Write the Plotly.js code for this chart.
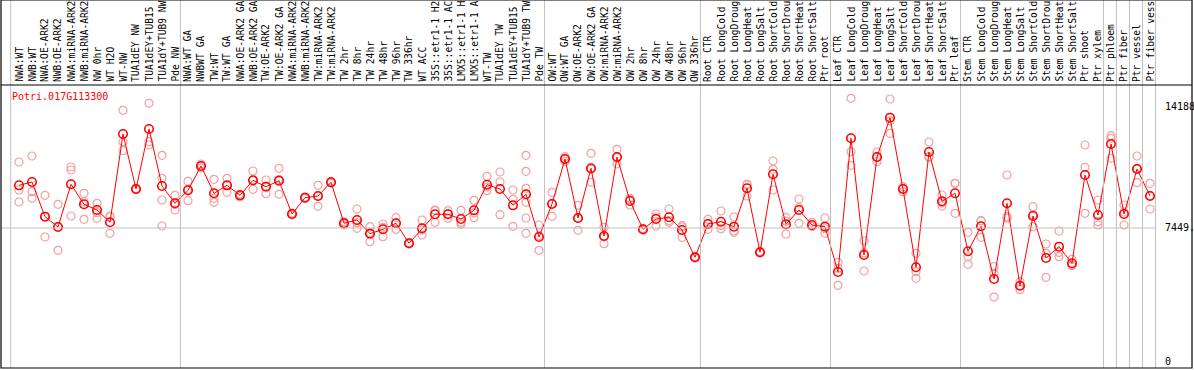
<!DOCTYPE html>
<html>
<head>
<meta charset="utf-8">
<script src="https://cdn.plot.ly/plotly-3.0.1.min.js"></script>
<style>html,body{margin:0;padding:0;background:#fff;}#chart{width:1194px;height:370px;}</style>
</head>
<body>
<div id="chart"></div>
<script>
const geneId = "Potri.017G113300";
const categories = ["NWA:WT","NWB:WT","NWA:OE-ARK2","NWB:OE-ARK2","NWA:miRNA-ARK2","NWB:miRNA-ARK2","NW 0hr","WT H2O","WT-NW","TUA1dEY NW","TUA1dEY+TUB15","TUA1dY+TUB9 NW","Pde NW",
"NWA:WT GA","NWBWT GA","TW:WT","TW:WT GA","NWA:OE-ARK2 GA","NWB:OE-ARK2 GA","TW:OE-ARK2","TW:OE-ARK2 GA","NWA:miRNA-ARK2","NWB:miRNA-ARK2","TW:miRNA-ARK2","TW:miRNA-ARK2","TW 2hr","TW 8hr","TW 24hr","TW 48hr","TW 96hr","TW 336hr","WT ACC","35S::etr1-1 H2","35S::etr1-1 AC","LMX5::etr1-1 H","LMX5::etr1-1 A","WT-TW","TUA1dEY TW","TUA1dEY+TUB15","TUA1dY+TUB9 TW","Pde TW",
"OW:WT","OW:WT GA","OW:OE-ARK2","OW:OE-ARK2 GA","OW:miRNA-ARK2","OW:miRNA-ARK2","OW 2hr","OW 8hr","OW 24hr","OW 48hr","OW 96hr","OW 336hr",
"Root CTR","Root LongCold","Root LongDroug","Root LongHeat","Root LongSalt","Root ShortCold","Root ShortDrou","Root ShortHeat","Root ShortSalt","Ptr root",
"Leaf CTR","Leaf LongCold","Leaf LongDroug","Leaf LongHeat","Leaf LongSalt","Leaf ShortCold","Leaf ShortDrou","Leaf ShortHeat","Leaf ShortSalt","Ptr leaf",
"Stem CTR","Stem LongCold","Stem LongDroug","Stem LongHeat","Stem LongSalt","Stem ShortCold","Stem ShortDrou","Stem ShortHeat","Stem ShortSalt","Ptr shoot","Ptr xylem","Ptr phloem","Ptr fiber","Ptr vessel","Ptr fiber vess"];

// group sizes (separator lines drawn after each group)
const groupSizes = [13, 28, 12, 10, 10, 11, 1, 1, 1, 1];

const means = [9825,10009,8077,7503,9881,8767,8450,7765,12683,9619,12961,9786,8823,
9547,10900,9380,9825,9268,10104,9748,10082,8227,9135,9229,9993,7709,7893,7130,7375,7709,6595,7430,8210,8210,7948,8433,9859,9619,8711,9324,6946,
8784,11290,8004,10772,7001,11402,8951,7375,7948,8043,7336,5815,
7670,7798,7520,9658,6094,10438,7653,8450,7614,7520,
4996,12443,5943,11402,13591,9619,5258,11680,8934,9380,
6149,7542,4606,8823,4233,8115,5776,6406,5481,10399,8171,12126,8227,10733,9229];

const replicates = [
[11123,9564,8895],[11457,9469,9101],[9268,8077,6946],[8767,7503,6205],[10845,10678,8115],[9380,8912,7932],[8823,8299,7987],[8115,8059,7152],[14003,12254,11753],[9580,9619,9660],[14393,12254,12070],[11496,10215,9007,7558],[9268,8450,8750],
[10048,8968,9600],[11012,10900,10790],[10160,9101,8879],[10215,9436,9825],[9190,9268,9341],[10622,9603,10100],[10121,9358,9760],[10772,9324,10150],[8180,8227,8270],[9100,9135,9170],[9825,8655,9229],[9950,9993,10040],[7614,7709,7800],[8505,7430,7744],[7520,6684,7186],[7670,6963,7492],[8021,7375,7731],[6550,6595,6640],[7893,7057,7340],[8450,7765,8415],[8411,7987,8232],[8433,7653,7758],[8990,8021,8288],[10327,9525,9725],[10566,10009,8188],[9564,9046,7542],[11496,10605,9658,8879,8004,7152],[7614,6205,7019],
[9436,8099,8817],[11419,11290,11160],[8711,7319,7982],[11608,9993,10715],[6573,7486,6944],[11831,11012,11363],[8728,9025,9100],[7330,7375,7420],[8227,7558,8059],[8505,7765,7859],[7575,6929,7504],[5770,5815,5860],
[7932,7375,7703],[8394,7408,7592],[8060,7208,7292],[9898,9229,9847],[6050,6094,6140],[11179,10717,9564],[8021,7113,7825],[9062,7709,8579],[7765,7540,7537],[8004,7152,7404],
[5537,4255,5196],[14671,11697,10939],[6723,5052,6054],[11680,11140,11386],[14632,12722,13419],[9748,9469,9640],[6038,5013,4645],[12237,11419,11384],[9285,8672,8845],[9937,8266,9937],
[7208,5849,5425],[7854,6929,7843],[5292,4924,3602],[10399,8077,7993],[4456,4233,4010],[8634,7520,8192],[6556,6038,4701],[7280,5849,6089],[5704,5347,5392],[12070,10828,8266],[9007,7798,7614],[12588,12443,11329],[8728,7614,8339],[11457,9970,10772],[9937,8505,9245]];

const yTickValues = [14188, 7449, 0];
const yTickLabels = ["14188", "7449.", "0"];

const xIdx = categories.map((_, i) => i);
const repX = [], repY = [];
replicates.forEach((arr, i) => arr.forEach(v => { repX.push(i); repY.push(v); }));

const FONT = "DejaVu Sans Mono, monospace";
const xmin = -18/13, xmax = xmin + 1191/13;
const plotH = 283, headH = 85;
const topPaper = 1 + headH/plotH;

const traces = [
  {x: repX, y: repY, type: "scatter", mode: "markers", hoverinfo: "skip",
   marker: {symbol: "circle-open", size: 8, color: "#f2a0a0", line: {width: 1.2, color: "#f2a0a0"}}},
  {x: xIdx, y: means, type: "scatter", mode: "lines+markers",
   line: {color: "#ff0000", width: 1},
   marker: {symbol: "circle-open", size: 8.5, color: "#ff0000", line: {width: 1.6, color: "#ff0000"}}}
];

const shapes = [];
shapes.push({type: "line", xref: "x", yref: "paper", x0: -0.64, x1: -0.64, y0: 0, y1: topPaper, line: {color: "#c0c0c0", width: 1}});
let acc = 0;
groupSizes.forEach(s => {
  acc += s;
  const xs = acc - 1 + 0.42;
  shapes.push({type: "line", xref: "x", yref: "paper", x0: xs, x1: xs, y0: 0, y1: topPaper, line: {color: "#c0c0c0", width: 1}});
});
shapes.push({type: "line", xref: "paper", yref: "y", x0: 0, x1: (categories.length - 1 + 0.42 - xmin)/(xmax - xmin), y0: yTickValues[1], y1: yTickValues[1], line: {color: "#c0c0c0", width: 1}});
shapes.push({type: "line", xref: "paper", yref: "paper", x0: 0, x1: 1, y0: 1, y1: 1, line: {color: "#000", width: 1.2}});
shapes.push({type: "rect", xref: "paper", yref: "paper", x0: 0, x1: 1, y0: 0, y1: topPaper, line: {color: "#000", width: 1.2}});

const annotations = categories.map((c, i) => ({
  x: i, xref: "x", y: 1 + 2/plotH, yref: "paper", text: c, showarrow: false,
  textangle: -90, xanchor: "center", yanchor: "bottom",
  font: {family: FONT, size: 9.6, color: "#000"}, borderpad: 0
}));
yTickValues.forEach((v, k) => annotations.push({
  x: (1163 - 1)/1191, xref: "paper", y: v, yref: "y", text: yTickLabels[k], showarrow: false,
  xanchor: "left", yanchor: "middle", font: {family: FONT, size: 10, color: "#000"}
}));
annotations.push({x: 9/1191, xref: "paper", y: 1 - 12/plotH, yref: "paper", text: geneId, showarrow: false,
  xanchor: "left", yanchor: "middle", font: {family: FONT, size: 10, color: "#ff0000"}});

const layout = {
  width: 1194, height: 370,
  margin: {l: 1, r: 2, t: headH, b: 2, pad: 0},
  paper_bgcolor: "#fff", plot_bgcolor: "#fff",
  showlegend: false,
  xaxis: {range: [xmin, xmax], showgrid: false, zeroline: false, showticklabels: false, ticks: "", showline: false},
  yaxis: {range: [-351, 15412], showgrid: false, zeroline: false, showticklabels: false, ticks: "", showline: false},
  shapes: shapes, annotations: annotations
};

Plotly.newPlot("chart", traces, layout, {staticPlot: true, displayModeBar: false});
</script>
</body>
</html>
